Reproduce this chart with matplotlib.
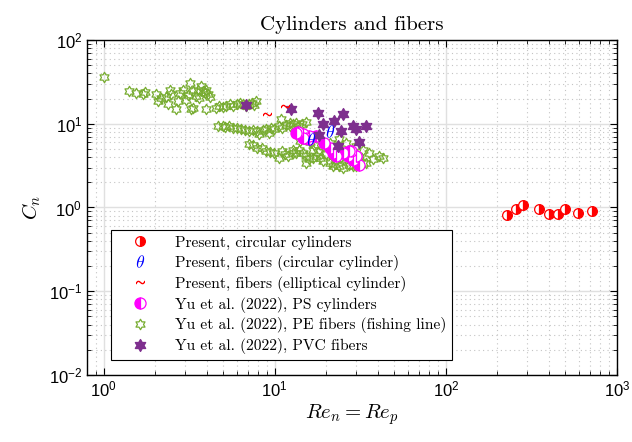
import numpy as np
import matplotlib
matplotlib.use("Agg")
import matplotlib.pyplot as plt
from matplotlib.path import Path

plt.rcParams["font.family"] = ["Liberation Sans", "DejaVu Sans"]
plt.rcParams["mathtext.fontset"] = "cm"

# Present, circular cylinders
cyl_re = [229, 257, 283, 348, 402, 451, 498, 595, 718]
cyl_cn = [0.81, 0.97, 1.06, 0.95, 0.84, 0.83, 0.95, 0.86, 0.92]

# Present, fibers (circular cylinder)
fib_c_re = [16.3, 20.9]
fib_c_cn = [6.6, 8.1]

# Present, fibers (elliptical cylinder)
fib_e_re = [8.98, 11.5]
fib_e_cn = [13.2, 16.2]

# Yu et al. (2022), PS cylinders
ps_re = [13.6, 14.6, 15.3, 15.9, 17.5, 19.5, 20.9, 21.8, 22.9, 25.0, 26.7, 28.5,
         29.8, 31.2, 28.0, 13.3, 14.6, 15.9, 27.3, 29.8]
ps_cn = [7.9, 7.45, 6.8, 6.5, 7.1, 5.9, 5.2, 4.5, 4.1, 4.5, 4.1, 3.7,
         4.1, 3.26, 4.7, 7.8, 6.8, 7.1, 4.7, 4.1]

# Yu et al. (2022), PE fibers (fishing line)
pe_re = [
    # upper band
    1.0, 1.41, 1.55, 1.70, 1.74, 2.03, 2.07, 2.17, 2.43, 2.49, 2.37, 2.66, 2.72,
    2.90, 3.04, 3.18, 3.25, 3.32, 3.48, 3.72, 3.89, 3.98, 4.07, 3.55, 3.60, 3.80,
    3.32, 3.98, 4.54, 4.75, 5.0, 5.46, 5.69, 6.0, 6.23, 6.5, 6.8, 7.1, 7.4, 7.8,
    7.6, 5.2, 2.3, 2.8, 3.1, 4.2,
    # middle band
    4.65, 4.98, 5.1, 5.4, 5.69, 6.0, 6.37, 6.7, 7.1, 7.5, 7.9, 8.1, 8.5, 8.9,
    9.3, 9.5, 9.95, 10.6, 10.9, 11.1, 11.6, 12.2, 12.8, 13.3, 13.9, 14.5, 15.2,
    12.2,
    # lower band
    7.1, 7.5, 7.9, 8.4, 8.9, 9.4, 9.95, 10.6, 11.1, 11.5, 11.9, 12.8, 13.3, 13.9,
    14.6, 15.3, 15.9, 16.7, 16.7, 17.5, 18.3, 19.1, 19.1, 20.9, 20.9, 21.8, 21.8,
    22.5, 23.8, 23.8, 25.0, 26.0, 26.0, 27.0, 28.5, 28.5, 29.8, 29.8, 31.2, 32.6,
    32.6, 34.2, 35.7, 37.3, 40.9, 42.9, 15.3, 12.8, 24.5, 27.0, 22.0, 18.0, 20.0,
    16.0, 17.0, 14.0,
]
pe_cn = [
    36.5, 24.6, 23.5, 22.9, 23.9, 22.4, 18.6, 20.4, 25.6, 22.4, 17.0, 14.8, 18.6,
    25.2, 19.4, 30.9, 14.8, 24.6, 21.4, 28.2, 23.5, 25.6, 22.4, 25.6, 20.5, 24.5,
    15.5, 14.8, 15.5, 16.3, 15.8, 17.0, 16.3, 17.2, 17.8, 17.0, 16.5, 17.4, 17.8,
    18.6, 16.8, 16.5, 21.0, 23.0, 22.0, 21.0,
    9.36, 9.5, 9.2, 9.4, 8.9, 8.8, 8.6, 8.5, 8.2, 8.4, 8.2, 7.5, 8.4, 8.6,
    7.8, 8.9, 8.6, 9.36, 11.3, 8.9, 9.6, 9.36, 9.8, 10.3, 9.36, 9.9, 10.4,
    10.3,
    5.66, 5.5, 5.2, 5.1, 4.7, 4.6, 4.5, 3.9, 4.7, 4.3, 4.1, 4.5, 4.5, 4.9,
    4.5, 4.1, 3.75, 3.9, 4.9, 4.1, 3.9, 3.6, 5.4, 5.9, 3.4, 3.1, 4.1,
    3.3, 6.5, 3.1, 3.0, 5.9, 3.75, 3.2, 3.1, 4.5, 5.4, 3.1, 3.75, 3.4,
    4.9, 3.4, 4.5, 3.75, 4.1, 3.9, 3.4, 4.9, 4.0, 4.8, 5.0, 4.6, 4.3,
    6.0, 5.5, 6.2,
]

# Yu et al. (2022), PVC fibers
pvc_re = [6.75, 12.5, 17.8, 25.2, 19.1, 22.1, 24.5, 28.5, 29.8, 34.2, 30.9, 23.3, 18.1]
pvc_cn = [16.6, 15.1, 13.5, 12.9, 9.8, 10.7, 8.2, 9.4, 8.6, 9.4, 6.1, 5.4, 7.25]

labels = [
    "Present, circular cylinders",
    "Present, fibers (circular cylinder)",
    "Present, fibers (elliptical cylinder)",
    "Yu et al. (2022), PS cylinders",
    "Yu et al. (2022), PE fibers (fishing line)",
    "Yu et al. (2022), PVC fibers",
]

hexagram = Path.unit_regular_star(6, innerCircle=0.577)

fig = plt.figure(figsize=(6.32, 4.42), dpi=100)
ax = fig.add_axes([0.1377, 0.1516, 0.8385, 0.7579])

ax.plot(pe_re, pe_cn, ls="none", marker=hexagram, ms=7.5, mfc="none",
        mec="#77AC30", mew=0.9, label=labels[4])
ax.plot(ps_re, ps_cn, ls="none", marker="o", ms=8, fillstyle="left",
        mfc="#FF00FF", mfcalt="white", mec="#FF00FF", mew=0.9, label=labels[3])
ax.plot(pvc_re, pvc_cn, ls="none", marker=hexagram, ms=8.5, mfc="#7E2F8E",
        mec="#7E2F8E", label=labels[5])
ax.plot(cyl_re, cyl_cn, ls="none", marker="o", ms=7, fillstyle="right",
        mfc="#FF0000", mfcalt="white", mec="#FF0000", mew=0.9, label=labels[0])
ax.plot(fib_c_re, fib_c_cn, ls="none", marker=r"$\mathrm{\theta}$", ms=9,
        color="#0000FF", mew=0, label=labels[1])
ax.plot(fib_e_re, fib_e_cn, ls="none", marker=r"$\sim$", ms=6,
        color="#FF0000", mew=0.5, label=labels[2])

ax.set_xscale("log")
ax.set_yscale("log")
ax.set_xlim(0.8, 1000)
ax.set_ylim(1e-2, 1e2)

ax.grid(True, which="major", color="#e0e0e0", lw=1.0, ls="-")
ax.grid(True, which="minor", color="#c4c4c4", lw=0.8, ls=(0, (1, 3)))
ax.set_axisbelow(True)

ax.tick_params(which="both", direction="in", top=True, right=True,
               labelsize=12, colors="black")
ax.tick_params(which="major", length=5, width=0.8)
ax.tick_params(which="minor", length=3, width=0.6)
for s in ax.spines.values():
    s.set_linewidth(1.0)

ax.set_title("Cylinders and fibers", family="cmr10", fontsize=15, pad=7)
ax.set_xlabel(r"$Re_n = Re_p$", fontsize=15, labelpad=2)
ax.set_ylabel(r"$C_n$", fontsize=15, labelpad=4)

handles, labs = ax.get_legend_handles_labels()
order = [labs.index(l) for l in labels]
leg = ax.legend([handles[i] for i in order], [labs[i] for i in order],
                loc="lower left", bbox_to_anchor=(0.045, 0.045), borderaxespad=0,
                prop={"family": "cmr10", "size": 11.2}, frameon=True, fancybox=False,
                edgecolor="black", framealpha=1, handlelength=3.0,
                handletextpad=0.8, labelspacing=0.32, borderpad=0.35)
leg.get_frame().set_linewidth(0.8)

fig.savefig("out.png", dpi=100)
